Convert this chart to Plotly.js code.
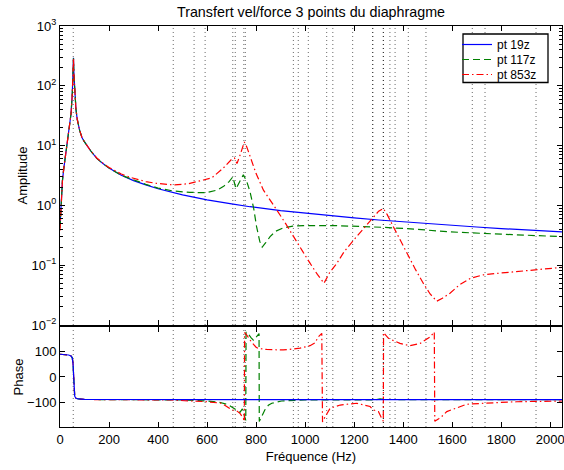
<!DOCTYPE html>
<html>
<head>
<meta charset="utf-8">
<script src="https://cdn.plot.ly/plotly-3.0.1.min.js"></script>
<style>html,body{margin:0;padding:0;background:#fff;}#chart{width:564px;height:470px;}</style>
</head>
<body>
<div id="chart"></div>
<script>
// ---------- data ----------
const seriesNames = ["pt 19z", "pt 117z", "pt 853z"];

// amplitude, pt 19z
const freqAmp19 = [0,5,10,15,20,25,30,35,40,45,50,53,55,57,60,65,70,80,90,100,125,150,175,200,250,300,350,400,500,600,700,775,900,1000,1100,1200,1300,1400,1500,1600,1700,1800,1900,2048];
const amp19 = [0.45,1.3,2.6,4.0,5.8,7.8,10.7,14.3,21,34,72,140,295,150,79,41,28,18,13.5,11.5,8.2,6.1,5.0,4.2,3.2,2.6,2.2,1.9,1.5,1.24,1.06,0.95,0.82,0.74,0.67,0.62,0.57,0.53,0.49,0.46,0.435,0.41,0.39,0.36];

// amplitude, pt 117z
const freqAmp117 = [0,5,10,15,20,25,30,35,40,45,50,53,55,57,60,65,70,80,90,100,125,150,175,200,250,300,350,400,462,530,598,640,666,690,705,718,735,748,762,775,790,802,815,825,840,857,880,911,950,993,1115,1200,1319,1450,1591,1800,2048];
const amp117 = [0.42,1.3,2.6,4.0,5.8,7.8,10.7,14.3,21,34,72,140,290,150,79,41,28,18,13.5,11.5,8.2,6.1,5.0,4.2,3.2,2.65,2.25,1.95,1.74,1.65,1.63,1.8,2.06,2.5,3.0,1.9,2.5,3.25,2.5,1.7,0.9,0.44,0.25,0.20,0.24,0.30,0.37,0.42,0.45,0.46,0.46,0.45,0.43,0.40,0.36,0.33,0.30];

// amplitude, pt 853z
const freqAmp853 = [0,5,10,15,20,25,30,35,40,45,50,53,55,57,60,65,70,80,90,100,125,150,175,200,250,292,350,388,462,524,585,620,666,700,712,722,735,752,762,775,800,830,860,884,920,952,990,1020,1050,1077,1100,1129,1160,1197,1240,1272,1300,1319,1335,1360,1390,1414,1450,1482,1510,1537,1560,1591,1630,1673,1727,1800,1863,1950,2048];
const amp853 = [0.38,1.3,2.6,4.0,5.8,7.8,10.7,14.3,21,34,72,140,290,150,79,41,28,18,13.5,11.5,8.2,6.2,5.1,4.3,3.35,2.9,2.5,2.35,2.2,2.3,2.66,2.9,4.2,5.9,6.2,5.0,7.0,11.5,9.5,6.5,3.4,1.8,1.2,0.84,0.5,0.3,0.17,0.108,0.07,0.05,0.075,0.107,0.17,0.26,0.42,0.61,0.8,0.89,0.7,0.44,0.25,0.16,0.085,0.05,0.033,0.025,0.028,0.034,0.047,0.06,0.069,0.074,0.078,0.085,0.092];

// phase (degrees)
const freqPh19 = [0,20,35,45,50,53,55,57,60,65,75,100,500,1000,1500,2048];
const ph19 = [90,89,87,83,76,55,0,-55,-76,-84,-87,-89,-90,-90,-90,-90];

const freqPh117 = [0,20,35,45,50,53,55,57,60,65,75,100,500,600,650,687,705,721,734,744,752,758,759,768,780,789,796,809,812,813,825,836,850,864,904,950,1000,1280,1306,1330,1500,2048];
const ph117 = [90,89,87,83,76,55,0,-55,-76,-84,-87,-89,-91,-95,-100,-110,-122,-130,-140,-126,-150,-172,178,170,155,146,153,166,172,-176,-150,-130,-112,-104,-95,-92,-91,-91,-87,-89,-90,-90];

const freqPh853 = [0,20,35,45,50,53,55,57,60,65,75,100,450,537,600,660,700,721,735,748,752,753,762,780,800,809,843,911,979,1020,1040,1054,1068,1071,1080,1102,1143,1170,1211,1237,1265,1278,1299,1312,1319,1320,1330,1340,1387,1428,1469,1510,1527,1529,1545,1557,1578,1618,1659,1727,1795,1863,2048];
const ph853 = [90,89,87,83,76,55,0,-55,-76,-84,-87,-89,-91,-95,-98,-104,-130,-134,-145,-163,-176,176,166,140,118,113,109,107,114,124,135,159,173,-178,-160,-124,-111,-108,-104,-110,-117,-130,-137,-163,-175,176,162,153,133,124,133,159,178,-175,-165,-157,-137,-124,-108,-104,-100,-98,-95];

// dotted vertical markers (Hz)
const markerFreqs = [54,462,547,592,705,715,750,756,952,972,1013,1088,1113,1194,1276,1319,1346,1367,1421,1493,1682,1734,1942];
const darkMarkerFreqs = [1276,1319];

// axis ticks
const xTicks = [0,200,400,600,800,1000,1200,1400,1600,1800,2000];
const ampTickVals = [0.01,0.1,1,10,100,1000];
const ampTickText = ["10<sup>−2</sup>","10<sup>−1</sup>","10<sup>0</sup>","10<sup>1</sup>","10<sup>2</sup>","10<sup>3</sup>"];
const phTickVals = [-100,0,100];
const phTickText = ["−100","0","100"];

// ---------- styling ----------
const colors = ["#0000ff","#008000","#ff0000"];
const dashes = ["solid","7px,4px","7px,3px,1.5px,3px"];
const FONT = "Liberation Sans, Arial, sans-serif";

// plot area in pixels (for legend placement helpers)
const W = 564, H = 470, ML = 60, MR = 2, MT = 26, MB = 43;
const PW = W - ML - MR, PH = H - MT - MB;
const px2x = p => (p - ML) / PW;
const py2y = p => (H - MB - p) / PH;

const legendNames = ["legend", "legend2", "legend3"];
const legendRowsPx = [44.5, 59.5, 74.5];

const traces = [];
const ampX = [freqAmp19, freqAmp117, freqAmp853];
const ampY = [amp19, amp117, amp853];
for (let i = 0; i < 3; i++) {
  traces.push({x: ampX[i], y: ampY[i], name: seriesNames[i], type: "scatter", mode: "lines",
    xaxis: "x", yaxis: "y", legend: legendNames[i], line: {color: colors[i], width: 1.2, dash: dashes[i]}});
}
const phX = [freqPh19, freqPh117, freqPh853];
const phY = [ph19, ph117, ph853];
[1, 2, 0].forEach(i => {
  traces.push({x: phX[i], y: phY[i], name: seriesNames[i], type: "scatter", mode: "lines",
    xaxis: "x2", yaxis: "y2", showlegend: false, line: {color: colors[i], width: 1.2, dash: dashes[i]}});
});

const shapes = [];
markerFreqs.forEach(f => {
  const dark = darkMarkerFreqs.includes(f);
  ["y domain", "y2 domain"].forEach((yr, k) => {
    shapes.push({type: "line", xref: k === 0 ? "x" : "x2", yref: yr, x0: f, x1: f, y0: 0, y1: 1,
      layer: "below", line: {color: dark ? "#000000" : "#666666", width: 1, dash: "1px,3px"}});
  });
});
// legend frame
shapes.push({type: "rect", xref: "paper", yref: "paper", layer: "above",
  x0: px2x(463), x1: px2x(548), y0: py2y(82.5), y1: py2y(34),
  line: {color: "#000", width: 1.3}, fillcolor: "#fff"});

const axisCommon = {showline: true, linecolor: "#000", linewidth: 1, mirror: "allticks",
  ticks: "inside", ticklen: 5, tickcolor: "#000", showgrid: false, zeroline: false,
  ticklabeloverflow: "allow",
  tickfont: {family: FONT, size: 13, color: "#000"}};

const layout = {
  width: W, height: H,
  margin: {l: ML, r: MR, t: MT, b: MB},
  paper_bgcolor: "#fff", plot_bgcolor: "#fff",
  font: {family: FONT, size: 13, color: "#000"},
  title: {text: "Transfert vel/force 3 points du diaphragme", font: {family: FONT, size: 14.3, color: "#000"},
    x: 311 / W, xanchor: "center", y: 1 - 12/470, yanchor: "middle", yref: "container"},
  showlegend: true,
  xaxis: Object.assign({}, axisCommon, {domain: [0, 1], anchor: "y", range: [0, 2048],
    tickvals: xTicks, showticklabels: false}),
  yaxis: Object.assign({}, axisCommon, {domain: [0.2544, 1], anchor: "x", type: "log", range: [-2, 3],
    tickvals: ampTickVals, ticktext: ampTickText,
    minor: {ticks: "inside", ticklen: 3, tickcolor: "#000", dtick: "D1", showgrid: false},
    title: {text: "Amplitude", font: {family: FONT, size: 13, color: "#000"}, standoff: 0}}),
  xaxis2: Object.assign({}, axisCommon, {domain: [0, 1], anchor: "y2", range: [0, 2048], matches: "x",
    tickvals: xTicks,
    title: {text: "Fréquence (Hz)", font: {family: FONT, size: 13, color: "#000"}, standoff: 6}}),
  yaxis2: Object.assign({}, axisCommon, {domain: [0, 0.2494], anchor: "x2", range: [-198, 198],
    tickvals: phTickVals, ticktext: phTickText,
    title: {text: "Phase", font: {family: FONT, size: 13, color: "#000"}, standoff: 0}}),
  shapes: shapes
};
legendNames.forEach((ln, i) => {
  layout[ln] = {x: px2x(457), xanchor: "left", y: py2y(legendRowsPx[i]), yanchor: "middle",
    bgcolor: "rgba(0,0,0,0)", borderwidth: 0, itemwidth: 30,
    font: {family: FONT, size: 12, color: "#000"}};
});

Plotly.newPlot("chart", traces, layout, {staticPlot: true, displayModeBar: false});
</script>
</body>
</html>
